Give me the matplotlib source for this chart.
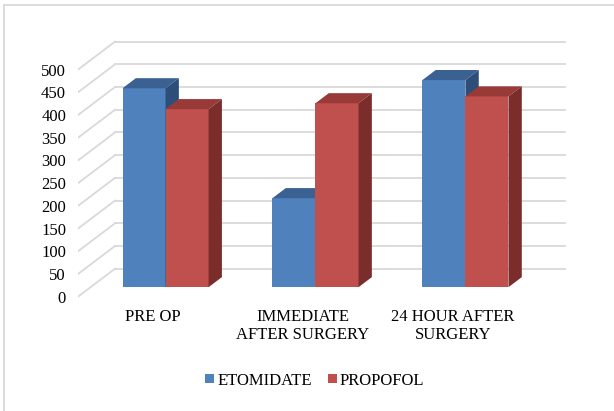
import matplotlib.pyplot as plt
from matplotlib.patches import Polygon, Patch
from matplotlib.lines import Line2D

plt.rcParams['font.family'] = ['Liberation Serif', 'DejaVu Serif']

# data
categories = ['PRE OP', 'IMMEDIATE\nAFTER SURGERY', '24 HOUR AFTER\nSURGERY']
series_names = ['ETOMIDATE', 'PROPOFOL']
etomidate = [438, 196, 456]
propofol = [392, 405, 420]
y_ticks = [0, 50, 100, 150, 200, 250, 300, 350, 400, 450, 500]

# face colours: front, top, side
colours = [('#4f81bd', '#3a6192', '#2e4e7a'),
           ('#c0504d', '#983a37', '#7a2d2b')]

fig = plt.figure(figsize=(6.14, 4.11), dpi=100)
ax = fig.add_axes([0.127, 0.270, 0.801, 0.645])
ax.set_xlim(-0.5, 2.78)
ax.set_ylim(-7.27, 576.4)
for s in ax.spines.values():
    s.set_visible(False)

# oblique depth of the plot box (x units, value units)
DX, DV = 0.247, 61.7
front, back = 0.34, 0.70
bw = 0.287
grid = '#d9d9d9'

# back wall gridlines and side wall diagonals
for v in y_ticks:
    ax.plot([-0.5 + DX, 2.5 + DX], [v + DV, v + DV], color=grid, lw=1.3, zorder=0)
    ax.plot([-0.5, -0.5 + DX], [v, v + DV], color=grid, lw=1.3, zorder=0)

# 3d-looking columns
for i in range(len(categories)):
    for k, vals in enumerate([etomidate, propofol]):
        v = vals[i]
        x0 = i - bw + k * bw
        x1 = x0 + bw
        fc, tc, sc = colours[k]
        ax.bar(x0 + DX * front, v, width=bw, bottom=DV * front, align='edge',
               color=fc, linewidth=0, zorder=2)
        top = [(x0 + DX * front, v + DV * front), (x1 + DX * front, v + DV * front),
               (x1 + DX * back, v + DV * back), (x0 + DX * back, v + DV * back)]
        side = [(x1 + DX * front, DV * front), (x1 + DX * back, DV * back),
                (x1 + DX * back, v + DV * back), (x1 + DX * front, v + DV * front)]
        ax.add_patch(Polygon(top, closed=True, facecolor=tc, linewidth=0, zorder=2))
        ax.add_patch(Polygon(side, closed=True, facecolor=sc, linewidth=0, zorder=2))

ax.set_yticks(y_ticks)
ax.set_yticklabels([str(t) for t in y_ticks], fontsize=12)
ax.set_xticks(range(len(categories)))
ax.set_xticklabels(categories, fontsize=12, linespacing=1.2)
ax.tick_params(axis='y', length=0, pad=8.6)
ax.tick_params(axis='x', length=0, pad=6.5)

handles = [Patch(facecolor=colours[k][0]) for k in range(2)]
fig.legend(handles, series_names, loc='center', bbox_to_anchor=(0.513, 0.074),
           ncol=2, frameon=False, fontsize=12, handlelength=0.5, handleheight=0.5,
           handletextpad=0.2, columnspacing=1.0)

# chart area border (only top and left edges fall inside the image)
bx, by = 4 / 614, 1 - 5 / 411
fig.add_artist(Line2D([bx, 1.0], [by, by], transform=fig.transFigure,
                      color=grid, lw=1.3))
fig.add_artist(Line2D([bx, bx], [0.0, by], transform=fig.transFigure,
                      color=grid, lw=1.3))

fig.savefig('out.png', dpi=100)
